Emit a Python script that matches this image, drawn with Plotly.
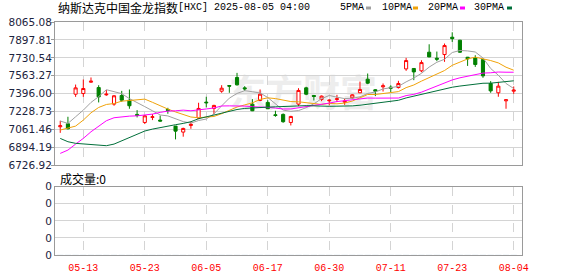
import plotly.graph_objects as go

# ---------------- data ----------------
dates = ["2025-05-08", "2025-05-09", "2025-05-12", "2025-05-13", "2025-05-14", "2025-05-15",
         "2025-05-16", "2025-05-19", "2025-05-20", "2025-05-21", "2025-05-22", "2025-05-23",
         "2025-05-27", "2025-05-28", "2025-05-29", "2025-05-30", "2025-06-02", "2025-06-03",
         "2025-06-04", "2025-06-05", "2025-06-06", "2025-06-09", "2025-06-10", "2025-06-11",
         "2025-06-12", "2025-06-13", "2025-06-16", "2025-06-17", "2025-06-18", "2025-06-20",
         "2025-06-23", "2025-06-24", "2025-06-25", "2025-06-26", "2025-06-27", "2025-06-30",
         "2025-07-01", "2025-07-02", "2025-07-03", "2025-07-07", "2025-07-08", "2025-07-09",
         "2025-07-10", "2025-07-11", "2025-07-14", "2025-07-15", "2025-07-16", "2025-07-17",
         "2025-07-18", "2025-07-21", "2025-07-22", "2025-07-23", "2025-07-24", "2025-07-25",
         "2025-07-28", "2025-07-29", "2025-07-30", "2025-07-31", "2025-08-01", "2025-08-04"]

open_ = [7087, 7115, 7391, 7397, 7503, 7453, 7385, 7298, 7379, 7335,
         7202, 7127, 7174, 7149, 7248, 7093, 7037, 7099, 7168, 7317,
         7258, 7419, 7472, 7547, 7450, 7298, 7332, 7314, 7199, 7202,
         7127, 7298, 7450, 7379, 7342, 7329, 7342, 7317, 7357, 7404,
         7531, 7432, 7460, 7457, 7453, 7627, 7631, 7609, 7783, 7727,
         7761, 7923, 7895, 7736, 7730, 7714, 7491, 7404, 7329, 7419]
high = [7143, 7180, 7481, 7528, 7547, 7475, 7429, 7382, 7422, 7435,
        7242, 7196, 7205, 7192, 7264, 7093, 7078, 7134, 7311, 7367,
        7292, 7475, 7475, 7590, 7466, 7345, 7435, 7335, 7236, 7211,
        7189, 7447, 7460, 7382, 7379, 7342, 7385, 7348, 7391, 7509,
        7584, 7438, 7491, 7475, 7516, 7730, 7634, 7708, 7857, 7789,
        7864, 7969, 7898, 7739, 7755, 7718, 7513, 7506, 7342, 7463]
low = [7030, 7062, 7366, 7366, 7497, 7314, 7376, 7283, 7320, 7255,
       7174, 7112, 7149, 7137, 7208, 6969, 6994, 7068, 7158, 7267,
       7205, 7404, 7404, 7472, 7422, 7233, 7326, 7252, 7180, 7124,
       7099, 7280, 7382, 7332, 7326, 7286, 7317, 7292, 7348, 7401,
       7485, 7373, 7416, 7407, 7444, 7609, 7522, 7596, 7736, 7699,
       7693, 7879, 7777, 7655, 7646, 7544, 7404, 7367, 7255, 7394]
close = [7096, 7068, 7450, 7444, 7512, 7366, 7391, 7376, 7335, 7283,
         7192, 7189, 7180, 7140, 7239, 7046, 7071, 7109, 7258, 7311,
         7286, 7447, 7466, 7478, 7441, 7236, 7391, 7255, 7192, 7134,
         7183, 7426, 7391, 7370, 7373, 7335, 7348, 7326, 7385, 7435,
         7494, 7419, 7469, 7447, 7491, 7705, 7599, 7686, 7739, 7718,
         7845, 7910, 7783, 7721, 7668, 7562, 7422, 7466, 7339, 7429]

ma5 = [7140, 7118, 7180, 7242, 7314, 7368, 7433, 7418, 7396, 7350,
       7315, 7275, 7236, 7197, 7188, 7159, 7135, 7121, 7145, 7159,
       7207, 7282, 7354, 7398, 7424, 7414, 7402, 7360, 7303, 7242,
       7231, 7238, 7265, 7301, 7349, 7379, 7363, 7350, 7353, 7366,
       7398, 7412, 7440, 7453, 7464, 7506, 7542, 7586, 7644, 7689,
       7717, 7780, 7799, 7795, 7785, 7729, 7631, 7568, 7491, 7444]
ma10 = [7056, 7071, 7093, 7149, 7217, 7267, 7295, 7304, 7326, 7332,
        7340, 7345, 7315, 7282, 7252, 7225, 7198, 7178, 7171, 7174,
        7183, 7209, 7237, 7271, 7291, 7310, 7342, 7357, 7350, 7333,
        7322, 7320, 7313, 7302, 7295, 7305, 7301, 7308, 7327, 7357,
        7388, 7388, 7395, 7403, 7415, 7452, 7477, 7513, 7548, 7577,
        7612, 7661, 7692, 7720, 7737, 7723, 7705, 7683, 7643, 7615]
ma20 = [6838, 6869, 6925, 6978, 7040, 7093, 7143, 7171, 7180, 7186,
        7189, 7196, 7205, 7221, 7233, 7236, 7242, 7236, 7242, 7253,
        7262, 7281, 7282, 7284, 7280, 7274, 7274, 7268, 7261, 7253,
        7253, 7264, 7275, 7287, 7293, 7308, 7322, 7332, 7339, 7345,
        7355, 7354, 7354, 7353, 7355, 7378, 7389, 7410, 7438, 7467,
        7500, 7524, 7544, 7561, 7576, 7588, 7591, 7598, 7596, 7596]
ma30 = [6978, 6947, 6932, 6928, 6925, 6916, 6910, 6925, 6956, 6987,
        7016, 7047, 7065, 7081, 7093, 7106, 7118, 7134, 7162, 7180,
        7196, 7214, 7233, 7248, 7258, 7264, 7267, 7270, 7273, 7276,
        7276, 7285, 7284, 7282, 7278, 7278, 7279, 7279, 7282, 7288,
        7298, 7306, 7315, 7325, 7334, 7356, 7373, 7393, 7409, 7422,
        7441, 7456, 7467, 7475, 7482, 7493, 7494, 7501, 7506, 7516]
volume = [0] * 60

price_ticks = [6726.92, 6894.19, 7061.46, 7228.73, 7396.00, 7563.27, 7730.54, 7897.81, 8065.08]
x_tick_labels = ["05-13", "05-23", "06-05", "06-17", "06-30", "07-11", "07-23", "08-04"]
vol_tick_labels = ["0", "0", "0", "0", "0"]
ma_names = ["5PMA", "10PMA", "20PMA", "30PMA"]
ma_colors = ["#a0a0a0", "#f0a30a", "#ff00ff", "#006f3a"]

title_cn = "纳斯达克中国金龙指数"
title_rest = "[HXC] 2025-08-05 04:00"
vol_title = "成交量:0"
watermark = "东方财富"

# ---------------- layout geometry ----------------
W, H = 578, 276
L, R, T, B = 55, 56, 22, 21
PH = H - T - B
PW = W - L - R


def py(y):
    return (H - B - y) / PH


def px(x):
    return (x - L) / PW


xs = list(range(len(dates)))
tick_idx = [[d[5:] for d in dates].index(t) for t in x_tick_labels]

fig = go.Figure()

for name, vals, col in zip(ma_names, [ma5, ma10, ma20, ma30], ma_colors):
    fig.add_trace(go.Scatter(x=xs, y=vals, mode="lines", name=name,
                             line=dict(color=col, width=1), xaxis="x", yaxis="y",
                             showlegend=False, hoverinfo="skip"))

fig.add_trace(go.Candlestick(
    x=xs, open=open_, high=high, low=low, close=close,
    increasing=dict(line=dict(color="#ff0000", width=1), fillcolor="#ffffff"),
    decreasing=dict(line=dict(color="#008000", width=1), fillcolor="#008000"),
    whiskerwidth=0, xaxis="x", yaxis="y", showlegend=False))

fig.add_trace(go.Bar(x=xs, y=volume, xaxis="x2", yaxis="y2", showlegend=False,
                     marker_color="#008000"))

xr = [-0.682, 60.078]
grid_c = "#d4d4d4"
border_c = "#9a9a9a"
lab_font = dict(family="DejaVu Sans", size=10.5, color="#1c2440")

fig.update_layout(
    width=W, height=H, margin=dict(l=L, r=R, t=T, b=B, autoexpand=False),
    paper_bgcolor="white", plot_bgcolor="white",
    boxgap=0.42,
    xaxis=dict(domain=[0, 1], range=xr, anchor="y", tickvals=tick_idx,
               showticklabels=False, showgrid=True, gridcolor=grid_c, griddash="dash",
               gridwidth=1, showline=True, linecolor=border_c, mirror=True,
               zeroline=False, ticks="", automargin=False,
               rangeslider=dict(visible=False)),
    yaxis=dict(domain=[py(165.3), 1], range=[price_ticks[0], price_ticks[-1]],
               tickvals=price_ticks, ticktext=["%.2f" % v for v in price_ticks],
               tickfont=lab_font, showgrid=True, gridcolor=grid_c, gridwidth=1,
               showline=True, linecolor=border_c, mirror=True, zeroline=False,
               ticks="outside", ticklen=3, tickcolor=border_c, automargin=False,
               ticklabelstandoff=-3),
    xaxis2=dict(domain=[0, 1], range=xr, anchor="y2", tickvals=tick_idx,
                ticktext=x_tick_labels,
                tickfont=dict(family="Liberation Mono", size=10, color="#ff0000"),
                showgrid=True, gridcolor=grid_c, griddash="dash", gridwidth=1,
                showline=True, linecolor=border_c, mirror=True, zeroline=False,
                ticks="outside", ticklen=3, tickcolor="rgba(0,0,0,0)",
                automargin=False),
    yaxis2=dict(domain=[0, py(186.7)], range=[0, 4], tickvals=[0, 1, 2, 3, 4],
                ticktext=vol_tick_labels, tickfont=lab_font, showgrid=True,
                gridcolor=grid_c, gridwidth=1, showline=True, linecolor=border_c,
                mirror=True, zeroline=False, ticks="outside", ticklen=3,
                tickcolor="rgba(0,0,0,0)", automargin=False, ticklabelstandoff=-3),
)

ann = [
    dict(text=title_cn, x=px(56), y=py(8), xanchor="left", yanchor="middle",
         font=dict(family="Noto Sans CJK SC", size=12, color="#000000")),
    dict(text=title_rest, x=px(176), y=py(8), xanchor="left", yanchor="middle",
         font=dict(family="Liberation Mono", size=10, color="#000000")),
    dict(text=vol_title, x=px(58), y=py(178), xanchor="left", yanchor="middle",
         font=dict(family="Noto Sans CJK SC", size=12, color="#000000")),
]
leg_x = [338, 380, 426, 472]
sq_x = [366, 413, 460, 507]
shapes = [dict(type="rect", xref="paper", yref="paper", layer="below",
               x0=px(226), x1=px(380), y0=py(112), y1=py(82),
               line=dict(width=0), fillcolor="rgba(0,0,0,0)",
               label=dict(text=watermark, textposition="middle center",
                          font=dict(family="Noto Sans CJK SC", size=37,
                                    color="#ededed", weight="bold")))]
for name, col, lx, sx in zip(ma_names, ma_colors, leg_x, sq_x):
    ann.append(dict(text=name, x=px(lx), y=py(8), xanchor="left", yanchor="middle",
                    font=dict(family="Liberation Mono", size=10, color="#000000")))
    shapes.append(dict(type="rect", xref="paper", yref="paper",
                       x0=px(sx), x1=px(sx + 5), y0=py(9.5), y1=py(6.5),
                       fillcolor=col, line=dict(width=0)))
for a in ann:
    a.update(xref="paper", yref="paper", showarrow=False)
fig.update_layout(annotations=ann, shapes=shapes)

fig.write_html("out.html")
